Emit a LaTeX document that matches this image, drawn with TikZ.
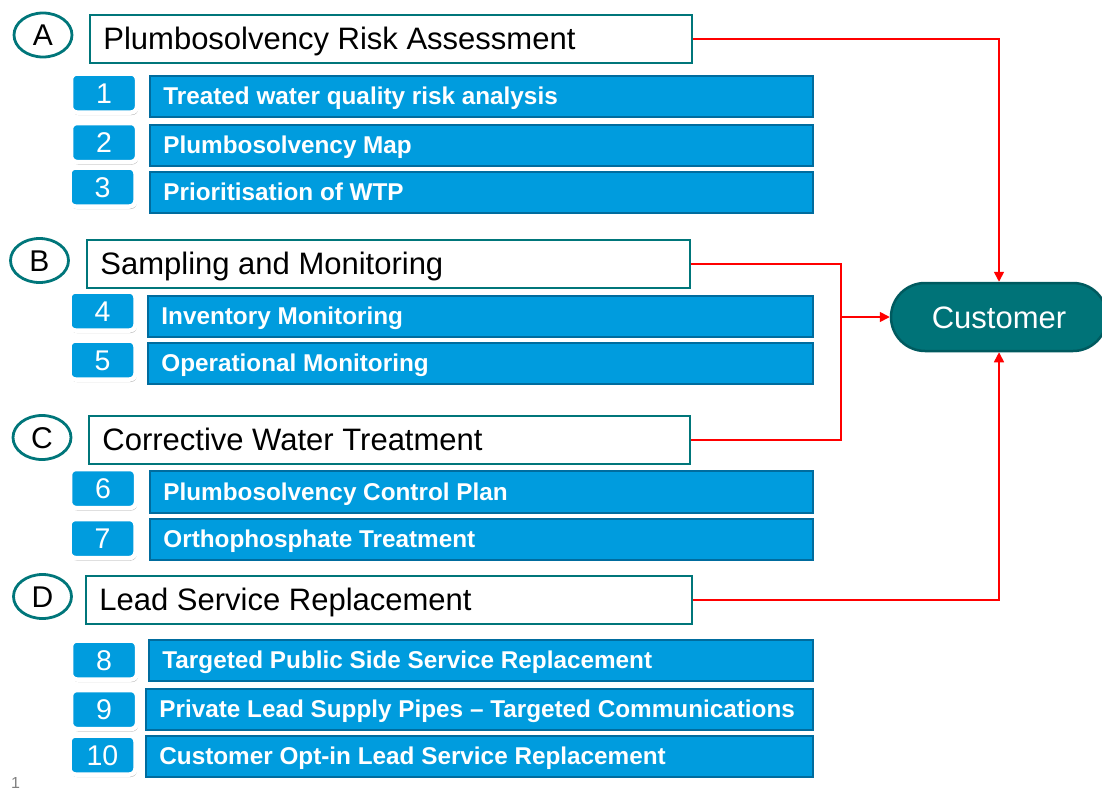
\documentclass[tikz,border=0pt]{standalone}
\usepackage{fontspec}
\setmainfont{Liberation Sans}
\usetikzlibrary{shapes.geometric,shapes.misc,shadows,arrows.meta}
\definecolor{boxblue}{RGB}{0,156,222}
\definecolor{boxedge}{RGB}{0,108,158}
\definecolor{tealc}{RGB}{0,118,122}
\definecolor{custfill}{RGB}{0,115,120}
\definecolor{custedge}{RGB}{0,90,95}
\definecolor{pagegrey}{RGB}{128,128,128}
\newcommand{\lefttext}[2]{\makebox[#1][l]{#2}}
\tikzset{
  letterell/.style={ellipse, draw=tealc, line width=2.8pt, fill=white, inner sep=0pt,
    minimum width=58pt, minimum height=44pt, font=\fontsize{30}{34}\selectfont,
    text height=21pt, text depth=0pt},
  titlebox/.style={rectangle, draw=tealc, line width=2.8pt, fill=white, inner ysep=0pt,
    inner xsep=13.5pt, minimum height=48pt, font=\fontsize{31}{36}\selectfont,
    text height=22pt, text depth=0pt},
  bluebox/.style={rectangle, draw=boxedge, line width=2.8pt, fill=boxblue, inner ysep=0pt,
    inner xsep=13.5pt, minimum height=41pt, font=\bfseries\fontsize{24.3}{28}\selectfont,
    text=white, text height=17pt, text depth=0pt},
  numbox/.style={rectangle, draw=white, line width=4.5pt, fill=boxblue, rounded corners=6pt,
    minimum width=66pt, minimum height=39pt, inner sep=0pt, text=white,
    font=\fontsize{28.5}{32}\selectfont, text height=20pt, text depth=0pt,
    drop shadow={shadow xshift=1.2pt, shadow yshift=-2.5pt, fill=black, opacity=0.3}},
  custnode/.style={rounded rectangle, draw=custedge, line width=2.5pt, fill=custfill,
    minimum width=216pt, minimum height=68pt, inner sep=0pt, text=white,
    font=\fontsize{31}{36}\selectfont, text height=22pt, text depth=0pt},
  redline/.style={draw=red, line width=1.6pt},
  redarrow/.style={redline, -{Triangle[length=10pt,width=10pt]}},
}
\begin{document}
\begin{tikzpicture}[x=1pt,y=-1pt]
\useasboundingbox (0,0) rectangle (1102,790);

% section letters
\node[letterell] (eA) at (43,35) {A};
\node[letterell] (eB) at (39.5,260.5) {B};
\node[letterell] (eC) at (42,437.5) {C};
\node[letterell] (eD) at (42.5,596.5) {D};

% section titles
\node[titlebox, anchor=north west] (tA) at (88.5,13.5) {\lefttext{575pt}{Plumbosolvency Risk Assessment}};
\node[titlebox, anchor=north west] (tB) at (85.5,238.5) {\lefttext{576pt}{Sampling and Monitoring}};
\node[titlebox, anchor=north west] (tC) at (87.5,414.5) {\lefttext{574pt}{Corrective Water Treatment}};
\node[titlebox, anchor=north west] (tD) at (84.5,574.5) {\lefttext{579pt}{Lead Service Replacement}};

% blue boxes
\node[bluebox, anchor=north west] (b1) at (148.5,74.5) {\lefttext{636pt}{Treated water quality risk analysis}};
\node[bluebox, anchor=north west] (b2) at (148.5,123.5) {\lefttext{636pt}{Plumbosolvency Map}};
\node[bluebox, anchor=north west] (b3) at (148.5,170.5) {\lefttext{636pt}{Prioritisation of WTP}};
\node[bluebox, anchor=north west] (b4) at (146.5,294.5) {\lefttext{638pt}{Inventory Monitoring}};
\node[bluebox, anchor=north west] (b5) at (146.5,341.5) {\lefttext{638pt}{Operational Monitoring}};
\node[bluebox, anchor=north west, minimum height=42pt] (b6) at (148.5,469.5) {\lefttext{636pt}{Plumbosolvency Control Plan}};
\node[bluebox, anchor=north west] (b7) at (148.5,517.5) {\lefttext{636pt}{Orthophosphate Treatment}};
\node[bluebox, anchor=north west] (b8) at (147.5,638.5) {\lefttext{637pt}{Targeted Public Side Service Replacement}};
\node[bluebox, anchor=north west] (b9) at (144.5,687.5) {\lefttext{640pt}{Private Lead Supply Pipes -- Targeted Communications}};
\node[bluebox, anchor=north west] (b10) at (144.5,734.5) {\lefttext{640pt}{Customer Opt-in Lead Service Replacement}};

% number boxes
\node[numbox] (n1) at (104,93) {1};
\node[numbox] (n2) at (104,142.5) {2};
\node[numbox] (n3) at (102.5,187) {3};
\node[numbox] (n4) at (102.5,311) {4};
\node[numbox] (n5) at (102.5,360) {5};
\node[numbox] (n6) at (103,488.5) {6};
\node[numbox] (n7) at (102.5,538.5) {7};
\node[numbox] (n8) at (104,660) {8};
\node[numbox] (n9) at (104,709.5) {9};
\node[numbox] (n10) at (102.5,755) {10};

% customer
\node[custnode] (cust) at (999,317) {Customer};

% connectors
\coordinate (jB) at (841,317);
\draw[redarrow] (tA.east) -| (cust.north);
\draw[redarrow] (tD.east) -| (cust.south);
\draw[redline] (tB.east) -| (jB) |- (tC.east);
\draw[redarrow] (jB) -- (cust.west);

% page number
\node[anchor=base west, inner sep=0pt, text=pagegrey, font=\fontsize{16}{18}\selectfont] (pg) at (11,788) {1};
\end{tikzpicture}
\end{document}
